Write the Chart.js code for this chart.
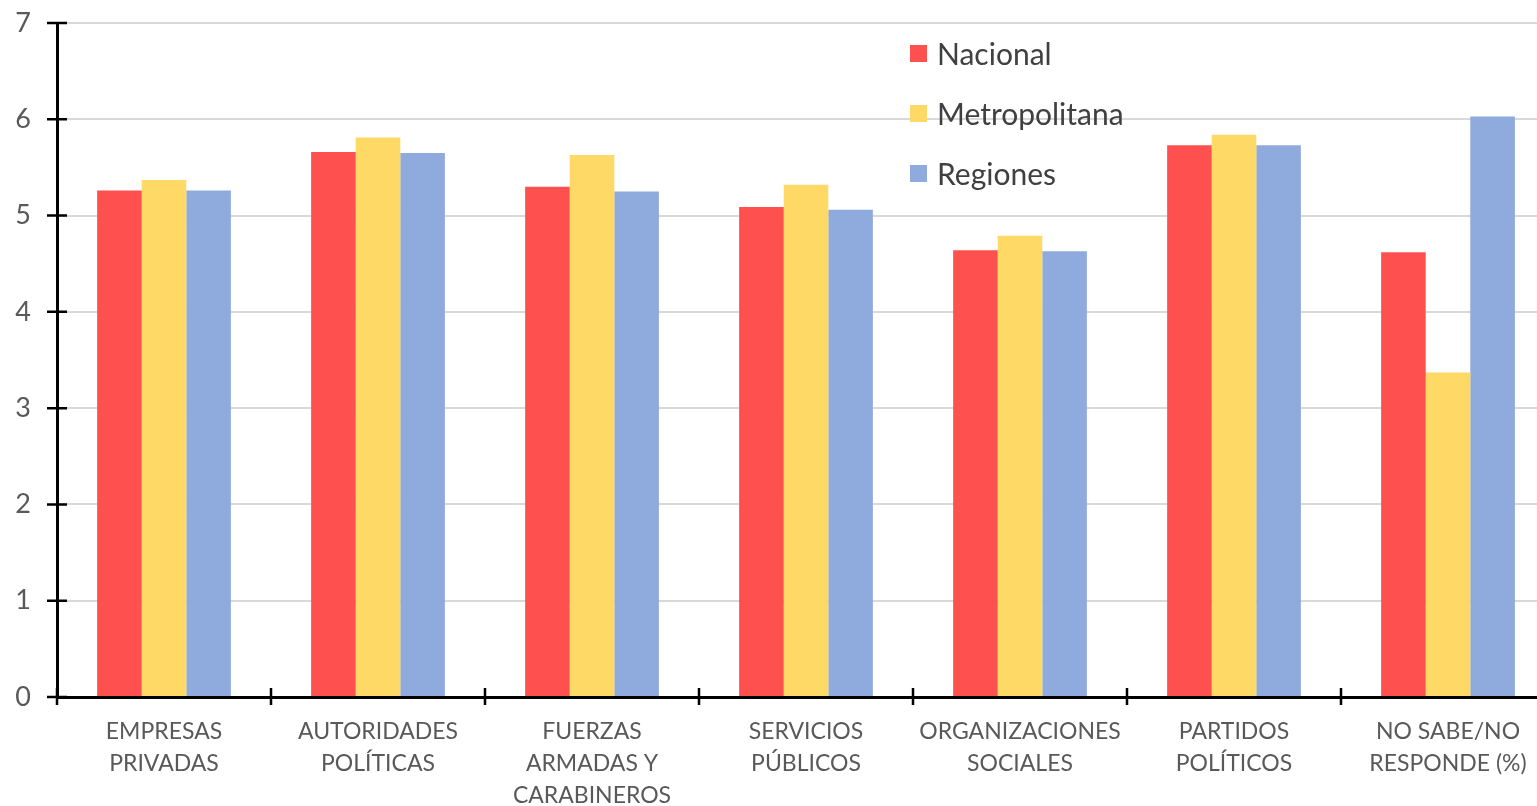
<!DOCTYPE html>
<html>
<head>
<meta charset="utf-8">
<script src="https://cdn.jsdelivr.net/npm/chart.js@4"></script>
<style>
  html, body { margin: 0; padding: 0; background: #fff; overflow: hidden; }
  #wrap { position: relative; width: 1555px; height: 806px; }
  #legend { position: absolute; left: 910px; top: 23px; font-family: Lato, "Open Sans", sans-serif; font-size: 30px; color: #404040; }
  #legend div { height: 60px; display: flex; align-items: center; white-space: nowrap; }
  #legend span.box { display: inline-block; width: 17px; height: 17px; margin-right: 10px; }
</style>
</head>
<body>
<div id="wrap">
  <canvas id="chart" width="1555" height="806"></canvas>
  <div id="legend"></div>
</div>
<script>
// chart data
const categories = [
  ['EMPRESAS', 'PRIVADAS'],
  ['AUTORIDADES', 'POLÍTICAS'],
  ['FUERZAS', 'ARMADAS Y', 'CARABINEROS'],
  ['SERVICIOS', 'PÚBLICOS'],
  ['ORGANIZACIONES', 'SOCIALES'],
  ['PARTIDOS', 'POLÍTICOS'],
  ['NO SABE/NO', 'RESPONDE (%)']
];
const nacional = [5.26, 5.66, 5.30, 5.09, 4.64, 5.73, 4.62];
const metropolitana = [5.37, 5.81, 5.63, 5.32, 4.79, 5.84, 3.37];
const regiones = [5.26, 5.65, 5.25, 5.06, 4.63, 5.73, 6.03];
const yTicks = [0, 1, 2, 3, 4, 5, 6, 7];

const seriesNames = ['Nacional', 'Metropolitana', 'Regiones'];
const seriesColors = ['#FF5050', '#FFD966', '#8FAADC'];

// cross ticks on both axes, like the original
const axisTicks = {
  id: 'axisTicks',
  afterDraw(chart) {
    const ctx = chart.ctx;
    const x = chart.scales.x, y = chart.scales.y;
    const area = chart.chartArea;
    ctx.save();
    ctx.strokeStyle = '#000';
    ctx.lineWidth = 2.5;
    ctx.beginPath();
    y.ticks.forEach((t, i) => {
      const py = y.getPixelForTick(i);
      ctx.moveTo(area.left - 10, py);
      ctx.lineTo(area.left + 10, py);
    });
    const half = (x.getPixelForValue(1) - x.getPixelForValue(0)) / 2;
    for (let i = 0; i <= categories.length; i++) {
      const px = x.getPixelForValue(0) - half + i * half * 2;
      ctx.moveTo(px, area.bottom - 9);
      ctx.lineTo(px, area.bottom + 8);
    }
    ctx.stroke();
    ctx.restore();
  }
};

const ctx = document.getElementById('chart').getContext('2d');
const chart = new Chart(ctx, {
  type: 'bar',
  data: {
    labels: categories,
    datasets: [nacional, metropolitana, regiones].map((d, i) => ({
      label: seriesNames[i],
      data: d,
      backgroundColor: seriesColors[i],
      borderWidth: 0,
      categoryPercentage: 0.625,
      barPercentage: 1
    }))
  },
  options: {
    responsive: false,
    animation: false,
    layout: { padding: { top: 23, right: 0, left: 0, bottom: 0 } },
    plugins: { legend: { display: false }, tooltip: { enabled: false } },
    scales: {
      x: {
        grid: { display: false, drawTicks: false },
        border: { display: true, color: '#000', width: 3 },
        ticks: {
          color: '#595959',
          padding: 18,
          maxRotation: 0,
          autoSkip: false,
          font: { family: 'Lato', size: 23, lineHeight: 1.4 }
        },
        afterFit(s) { s.height = 109; s.paddingLeft = 0; s.paddingRight = 0; }
      },
      y: {
        min: 0,
        max: 7,
        afterBuildTicks(s) { s.ticks = yTicks.map(v => ({ value: v })); },
        grid: { color: '#D9D9D9', lineWidth: 2, drawTicks: false },
        border: { display: true, color: '#000', width: 3 },
        ticks: {
          color: '#595959',
          padding: 26,
          font: { family: 'Lato', size: 27 }
        },
        afterFit(s) { s.width = 57; s.paddingTop = 0; s.paddingBottom = 0; }
      }
    }
  },
  plugins: [axisTicks]
});

// legend inside the plot area
const legend = document.getElementById('legend');
seriesNames.forEach((name, i) => {
  const row = document.createElement('div');
  row.innerHTML = '<span class="box" style="background:' + seriesColors[i] + '"></span>' + name;
  legend.appendChild(row);
});
</script>
</body>
</html>
